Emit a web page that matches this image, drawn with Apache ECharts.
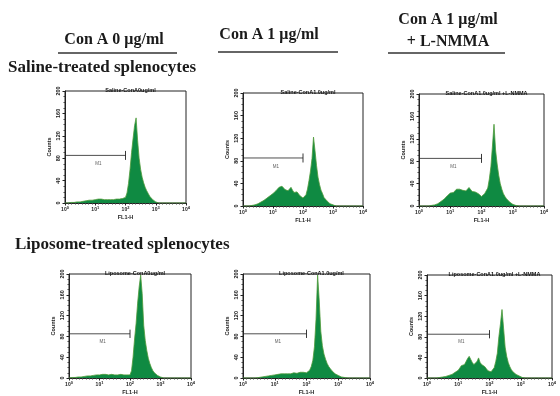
<!DOCTYPE html>
<html>
<head>
<meta charset="utf-8">
<script src="https://cdn.jsdelivr.net/npm/echarts@6/dist/echarts.min.js"></script>
<style>
  html, body { margin: 0; padding: 0; background: #fff; }
  #main { width: 560px; height: 396px; }
</style>
</head>
<body>
<div id="main"></div>
<script>
// channel position in decades (log10 of FL1-H)
var decades = [
  0, 0.05, 0.1, 0.15, 0.2, 0.25, 0.3, 0.35, 0.4, 0.45,
  0.5, 0.55, 0.6, 0.65, 0.7, 0.75, 0.8, 0.85, 0.9, 0.95,
  1, 1.05, 1.1, 1.15, 1.2, 1.25, 1.3, 1.35, 1.4, 1.45,
  1.5, 1.55, 1.6, 1.65, 1.7, 1.75, 1.8, 1.85, 1.9, 1.95,
  2, 2.05, 2.1, 2.15, 2.2, 2.25, 2.3, 2.35, 2.4, 2.45,
  2.5, 2.55, 2.6, 2.65, 2.7, 2.75, 2.8, 2.85, 2.9, 2.95,
  3, 3.05, 3.1, 3.15, 3.2, 3.25, 3.3, 3.35, 3.4, 3.45,
  3.5, 3.55, 3.6, 3.65, 3.7, 3.75, 3.8, 3.85, 3.9, 3.95,
  4
];

// counts per channel, one array per panel
var salineCon0 = [
  0,0,0,1,1,1,1,2,2,2,
  2,3,3,3,4,4,5,5,5,6,
  6,6,7,7,7,7,6,6,6,6,
  6,6,6,6,7,7,7,8,8,9,
  10,18,35,60,90,115,138,152,112,80,
  60,46,36,28,22,17,12,9,6,4,
  2,1,0,0,0,0,0,0,0,0,
  0,0,0,0,0,0,0,0,0,0,
  0
];
var salineCon1 = [
  0,0,0,0,0,0,1,1,2,3,
  4,5,7,8,10,12,14,16,18,20,
  22,24,27,30,33,31,35,32,29,31,
  27,30,33,28,24,22,25,23,18,15,
  14,16,20,30,45,62,84,122,98,72,
  51,38,28,22,15,12,9,6,4,3,
  2,1,0,0,0,0,0,0,0,0,
  0,0,0,0,0,0,0,0,0,0,
  0
];
var salineCon1Nmma = [
  0,0,0,0,0,0,0,0,1,1,
  2,3,4,6,8,10,12,15,18,21,
  23,26,24,27,30,32,30,31,28,27,
  27,30,33,35,26,28,25,24,22,20,
  17,18,22,25,32,48,70,107,146,100,
  75,55,40,30,22,17,13,10,7,5,
  3,2,1,0,0,0,0,0,0,0,
  0,0,0,0,0,0,0,0,0,0,
  0
];
var liposomeCon0 = [
  0,0,1,1,1,2,2,2,2,3,
  3,3,4,4,4,5,5,5,6,6,
  6,7,7,7,7,6,6,7,7,6,
  6,6,6,7,7,7,6,6,6,5,
  6,14,40,75,105,144,175,198,162,101,
  72,53,38,28,20,14,10,7,5,3,
  2,1,0,0,0,0,0,0,0,0,
  0,0,0,0,0,0,0,0,0,0,
  0
];
var liposomeCon1 = [
  0,0,0,0,0,0,0,0,0,1,
  1,2,2,3,3,4,4,5,5,6,
  6,7,7,7,8,8,8,8,8,9,
  8,10,10,11,9,10,11,12,11,11,
  10,12,15,22,34,60,113,198,150,90,
  62,46,36,28,22,18,14,11,8,6,
  5,3,2,1,1,0,0,0,0,0,
  0,0,0,0,0,0,0,0,0,0,
  0
];
var liposomeCon1Nmma = [
  0,0,0,0,0,0,0,0,1,1,
  2,2,3,4,5,6,7,9,11,13,
  15,18,24,22,26,32,38,42,36,30,
  26,24,32,39,30,26,24,22,18,14,
  13,12,14,20,32,48,80,105,133,97,
  60,42,30,22,16,12,9,7,5,4,
  2,1,0,0,0,0,0,0,0,0,
  0,0,0,0,0,0,0,0,0,0,
  0
];

var panelTitles = [
  'Saline-ConA0ug/ml', 'Saline-ConA1.0ug/ml', 'Saline-ConA1.0ug/ml +L-NMMA',
  'Liposome-ConA0ug/ml', 'Liposome-ConA1.0ug/ml', 'Liposome-ConA1.0ug/ml +L-NMMA'
];
var panelCounts = [salineCon0, salineCon1, salineCon1Nmma, liposomeCon0, liposomeCon1, liposomeCon1Nmma];
var yTicks = [0, 40, 80, 120, 160, 200];
var xDecadeTicks = [0, 1, 2, 3, 4];
var gateX = [0, 2];   // M1 marker from 10^0 to 10^2
var gateY = 85;
var gateLabelPos = [1.1, 70];

// plot boxes (left, top, width, height) in pixels
var boxes = [
  [65, 91, 121, 112], [243, 93, 120, 113], [419, 94, 125, 112],
  [69, 274, 122, 110], [243, 274, 127, 109], [427, 275, 125, 110]
];

var smallFont = 'Liberation Sans';
var serif = 'Liberation Serif';
var green = '#0f8a42';

var grids = [], xAxes = [], yAxes = [], series = [], titles = [];

boxes.forEach(function (b, i) {
  grids.push({
    left: b[0], top: b[1], width: b[2], height: b[3],
    show: true, borderColor: '#222', borderWidth: 1, backgroundColor: 'transparent'
  });
  titles.push({
    text: panelTitles[i],
    left: b[0] + b[2] / 2, top: b[1] - 9, textAlign: 'center',
    textStyle: { fontSize: 5.5, fontWeight: 'bold', fontFamily: smallFont, color: '#111' }
  });
  xAxes.push({
    gridIndex: i, type: 'value', min: 0, max: 4, interval: 1,
    name: 'FL1-H', nameLocation: 'middle', nameGap: 11,
    nameTextStyle: { fontSize: 5.5, fontWeight: 'bold', fontFamily: smallFont, color: '#222' },
    axisLine: { lineStyle: { color: '#222', width: 1 } },
    axisTick: { length: 2.5, lineStyle: { color: '#222' } },
    minorTick: { show: true, splitNumber: 9, length: 1.5, lineStyle: { color: '#444' } },
    splitLine: { show: false },
    axisLabel: {
      fontSize: 5, fontFamily: smallFont, fontWeight: 'bold', color: '#222', margin: 3,
      formatter: function (v) {
        return xDecadeTicks.indexOf(v) >= 0 ? '10{s|' + v + '}' : '';
      },
      rich: { s: { fontSize: 4, padding: [0, 0, 4, 0], fontFamily: smallFont, color: '#222' } }
    }
  });
  yAxes.push({
    gridIndex: i, type: 'value', min: 0, max: 200, interval: 40,
    name: 'Counts', nameLocation: 'middle', nameGap: 13, nameRotate: 90,
    nameTextStyle: { fontSize: 5.5, fontWeight: 'bold', fontFamily: smallFont, color: '#222' },
    axisLine: { show: true, lineStyle: { color: '#222', width: 1 } },
    axisTick: { show: true, length: 2.5, lineStyle: { color: '#222' } },
    minorTick: { show: true, splitNumber: 4, length: 1.5, lineStyle: { color: '#444' } },
    splitLine: { show: false },
    axisLabel: {
      rotate: 90, fontSize: 5.5, fontWeight: 'bold', fontFamily: smallFont, color: '#222', margin: 4,
      formatter: function (v) { return yTicks.indexOf(v) >= 0 ? String(v) : ''; }
    }
  });

  var counts = panelCounts[i];
  series.push({
    type: 'line', xAxisIndex: i, yAxisIndex: i,
    data: decades.map(function (d, k) { return [d, counts[k]]; }),
    symbol: 'none', smooth: false,
    lineStyle: { color: '#4f9a3a', width: 0.8 },
    areaStyle: { color: green, opacity: 1 },
    silent: true, z: 2
  });
  // M1 gate bar
  series.push({
    type: 'line', xAxisIndex: i, yAxisIndex: i,
    data: [[gateX[0], gateY], [gateX[1], gateY]],
    symbol: 'none', lineStyle: { color: '#222', width: 0.8 }, silent: true, z: 3
  });
  series.push({
    type: 'line', xAxisIndex: i, yAxisIndex: i,
    data: [[gateX[1], gateY - 8], [gateX[1], gateY + 8]],
    symbol: 'none', lineStyle: { color: '#222', width: 0.9 }, silent: true, z: 3
  });
  series.push({
    type: 'scatter', xAxisIndex: i, yAxisIndex: i,
    data: [gateLabelPos], symbolSize: 0, silent: true, z: 3,
    label: {
      show: true, position: 'inside', formatter: 'M1',
      fontSize: 4.5, fontFamily: smallFont, color: '#333'
    }
  });
});

function headText(str, x, y, align, size) {
  return {
    type: 'text', x: x, y: y,
    style: {
      text: str, textAlign: align || 'center', textVerticalAlign: 'middle',
      fontFamily: serif, fontWeight: 'bold', fontSize: size || 16, fill: '#1a1a1a'
    }
  };
}
function rule(x1, x2, y) {
  return {
    type: 'line', shape: { x1: x1, y1: y, x2: x2, y2: y },
    style: { stroke: '#333', lineWidth: 1.5 }
  };
}

var chart = echarts.init(document.getElementById('main'), null, { renderer: 'canvas' });
chart.setOption({
  backgroundColor: '#fff',
  animation: false,
  title: titles,
  grid: grids,
  xAxis: xAxes,
  yAxis: yAxes,
  series: series,
  graphic: [
    headText('Con A 0 \u03bcg/ml', 114, 40),
    rule(58, 177, 53),
    headText('Con A 1 \u03bcg/ml', 269, 35),
    rule(218, 338, 52),
    headText('Con A 1 \u03bcg/ml', 448, 20),
    headText('+ L-NMMA', 448, 42),
    rule(388, 505, 53),
    headText('Saline-treated splenocytes', 8, 68, 'left', 17),
    headText('Liposome-treated splenocytes', 15, 245, 'left', 17)
  ]
});
</script>
</body>
</html>
